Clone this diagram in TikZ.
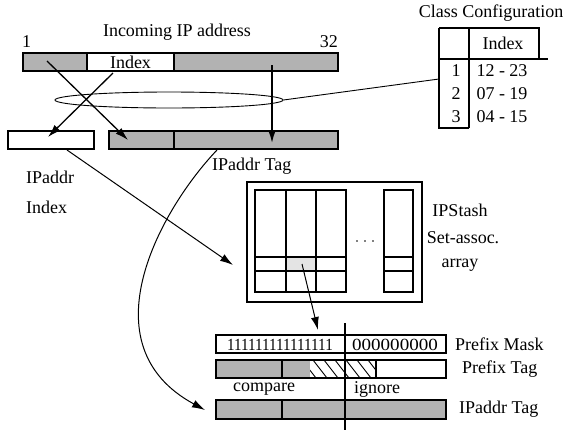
\documentclass[tikz,border=0pt]{standalone}
\usepackage{fontspec}
\setmainfont{Liberation Serif}
\usetikzlibrary{arrows.meta,calc,shapes.geometric}
\definecolor{barg}{RGB}{178,178,178}
\definecolor{cellg}{RGB}{228,228,228}
\begin{document}
\begin{tikzpicture}[x=1pt,y=-1pt,
  thk/.style={line width=1.9pt},
  bar/.style={draw,line width=1.9pt,fill=barg,outer sep=0pt,inner sep=0pt,anchor=north west},
  wbar/.style={draw,line width=1.9pt,fill=white,outer sep=0pt,inner sep=0pt,anchor=north west},
  arr/.style={-{Latex[length=13pt,width=8pt]},line width=1pt},
  lbl/.style={font=\fontsize{18}{20}\selectfont,inner sep=0pt},
]
\useasboundingbox (0,0) rectangle (566,432);

% ---------- top: incoming address ----------
\node[lbl] (title) at (177,32) {Incoming IP address};
\node[lbl,anchor=west] (one) at (22,42) {1};
\node[lbl,anchor=east] (thirtytwo) at (338,42) {32};
\node[bar,minimum width=64,minimum height=18] (t1) at (23,53) {};
\node[wbar,minimum width=87,minimum height=18,font=\fontsize{18}{20}\selectfont] (tidx) at (87,53) {Index};
\node[bar,minimum width=164,minimum height=18] (t3) at (174,53) {};

% ---------- second row ----------
\node[wbar,minimum width=86,minimum height=18] (ib) at (8,131) {};
\node[bar,minimum width=65,minimum height=18] (tagA) at (109,131) {};
\node[bar,minimum width=164,minimum height=18] (tagB) at (174,131) {};

% ellipse
\node[ellipse,draw,line width=0.9pt,minimum width=228,minimum height=16,inner sep=0pt] (ell) at (169,100) {};

% ---------- class configuration table ----------
\node[lbl] (cctitle) at (491,13) {Class Configuration};
\coordinate (tabL) at (439,79);
\draw[thk] (439,28) -- (439,128) -- (469,128);
\draw[thk] (439,28) -- (539,28) -- (539,59);
\draw[thk] (439,59) -- (548,59);
\draw[thk] (469,28) -- (469,128);
\node[lbl] (hidx) at (503,43) {Index};
\node[lbl] (r1) at (456,70.5) {1};
\node[lbl] (r2) at (456,93.5) {2};
\node[lbl] (r3) at (456,116.5) {3};
\node[lbl] (v1) at (502,70.5) {12 - 23};
\node[lbl] (v2) at (502,93.5) {07 - 19};
\node[lbl] (v3) at (502,116.5) {04 - 15};
\draw[line width=0.9pt] (ell.east) -- (tabL);

% ---------- labels ----------
\node[lbl,anchor=west] (tagl) at (212,166) {IPaddr Tag};
\node[lbl,anchor=west] (ipl) at (26,177) {IPaddr};
\node[lbl,anchor=west] (idxl) at (26,207) {Index};

% ---------- set-associative array ----------
\draw[thk] (247,182) rectangle (422,302);
\fill[cellg] (286,257) rectangle (316,271);
\draw[thk] (255,190) rectangle (346,292);
\draw[thk] (286,190) -- (286,292) (316,190) -- (316,292);
\draw[thk] (255,257) -- (346,257) (255,271) -- (346,271);
\draw[thk] (384,190) rectangle (413,292);
\draw[thk] (384,257) -- (413,257) (384,271) -- (413,271);
\foreach \xx in {357,365,373} \fill (\xx,241) circle (0.8);
\node[lbl] (ips) at (460,210) {IPStash};
\node[lbl] (sa) at (463,238) {Set-assoc.};
\node[lbl] (arrl) at (460,265) {array};
\coordinate (arrIn) at (233,265);
\coordinate (cell) at (302,264);

% ---------- bottom: prefix compare ----------
\node[wbar,minimum width=230,minimum height=18] (mask) at (216,335) {};
\node[inner sep=0pt,font=\fontsize{17}{20}\selectfont] (ones) at (280,344.5) {\scalebox{0.89}[1]{111111111111111}};
\node[inner sep=0pt,font=\fontsize{17}{20}\selectfont] (zeros) at (395,344.5) {\scalebox{1.12}[1]{000000000}};
\coordinate (maskTop) at (318,330);

\fill[barg] (216,360) rectangle (310,378);
\begin{scope}
  \clip (310,360) rectangle (376,378);
  \foreach \xx in {302,313,...,380} \draw[line width=0.9pt] (\xx,360) -- (\xx+14,378);
\end{scope}
\draw[thk] (216,360) rectangle (446,378);
\draw[thk] (282,360) -- (282,378) (376,360) -- (376,378);

\node[bar,minimum width=230,minimum height=19] (ptag) at (216,400) {};
\draw[thk] (282,400) -- (282,419);
\coordinate (ptagIn) at (205,410);

\draw[line width=1.7pt] (345,323) -- (345,430);

\node[lbl] (cmp) at (264,389) {compare};
\node[lbl] (ign) at (377,389) {ignore};
\node[lbl,anchor=west] (pm) at (455,344) {Prefix Mask};
\node[lbl,anchor=west] (pt) at (462,369) {Prefix Tag};
\node[lbl,anchor=west] (it) at (459,409) {IPaddr Tag};

% ---------- arrows ----------
\coordinate (s1) at (47,61);
\coordinate (e1) at (128,140);
\coordinate (s2) at (113,73);
\coordinate (e2) at (48,137);
\coordinate (s3) at (272,65);
\coordinate (e3) at (272,143);
\coordinate (s4) at (67,150);
\coordinate (s5) at (217,150);
\draw[arr,line width=1.3pt] (s1) -- (e1);
\draw[arr,line width=1.3pt] (s2) -- (e2);
\draw[arr,line width=1.7pt] (s3) -- (e3);
\draw[arr] (s4) -- (arrIn);
\draw[arr] (s5) .. controls (160,210) and (85,345) .. (ptagIn);
\draw[arr] (cell) -- (maskTop);
\end{tikzpicture}
\end{document}
